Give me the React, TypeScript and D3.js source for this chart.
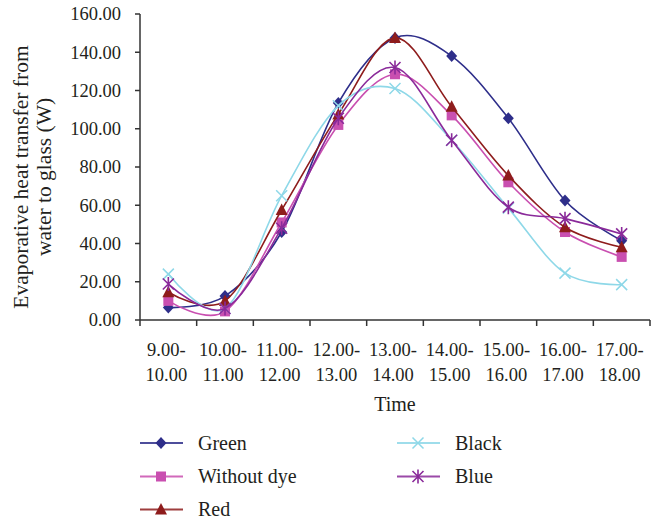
import React from "react";
import * as d3 from "d3";

const categories = ["9.00-10.00", "10.00-11.00", "11.00-12.00", "12.00-13.00", "13.00-14.00", "14.00-15.00", "15.00-16.00", "16.00-17.00", "17.00-18.00"];
const green = [6.5, 12.5, 46, 113.5, 147.5, 138, 105.5, 62.5, 41.5];
const withoutDye = [10, 4.5, 51, 102, 128.5, 107, 72, 46, 33];
const red = [14.5, 10, 57.5, 107.5, 147.5, 111.5, 75.5, 48.5, 38];
const black = [24, 6, 65, 112, 121, 94, 58.5, 24.5, 18.5];
const blue = [18.8, 6, 48, 105.5, 132, 94, 59, 53, 45];
const yTicks = [0, 20, 40, 60, 80, 100, 120, 140, 160];

type Marker = "diamond" | "square" | "triangle" | "x" | "star";
const series: { name: string; values: number[]; color: string; marker: Marker }[] = [
  { name: "Green", values: green, color: "#2E2E8A", marker: "diamond" },
  { name: "Without dye", values: withoutDye, color: "#C94FB0", marker: "square" },
  { name: "Red", values: red, color: "#8E1C1C", marker: "triangle" },
  { name: "Black", values: black, color: "#8ED8E8", marker: "x" },
  { name: "Blue", values: blue, color: "#8A2A9A", marker: "star" },
];

const FONT = "'Liberation Serif', 'Times New Roman', serif";

function MarkerShape({ type, x, y, color }: { type: Marker; x: number; y: number; color: string }) {
  switch (type) {
    case "diamond":
      return <path d={`M${x},${y - 6}L${x + 5.5},${y}L${x},${y + 6}L${x - 5.5},${y}Z`} fill={color} />;
    case "square":
      return <rect x={x - 5} y={y - 5} width={10} height={10} fill={color} />;
    case "triangle":
      return <path d={`M${x},${y - 6.5}L${x + 6},${y + 5}L${x - 6},${y + 5}Z`} fill={color} />;
    case "x":
      return <path d={`M${x - 5.5},${y - 5.5}L${x + 5.5},${y + 5.5}M${x - 5.5},${y + 5.5}L${x + 5.5},${y - 5.5}`} stroke={color} strokeWidth={1.5} fill="none" />;
    case "star":
      return (
        <path
          d={`M${x - 5.5},${y - 5.5}L${x + 5.5},${y + 5.5}M${x - 5.5},${y + 5.5}L${x + 5.5},${y - 5.5}M${x},${y - 7}L${x},${y + 7}`}
          stroke={color}
          strokeWidth={1.6}
          fill="none"
        />
      );
  }
}

export default function App() {
  const width = 652;
  const height = 521;
  const left = 140, right = 650, top = 14, bottom = 320;

  const x = d3.scaleBand<string>().domain(categories).range([left, right]).paddingInner(0).paddingOuter(0);
  const y = d3.scaleLinear().domain([0, 160]).range([bottom, top]);
  const cx = (c: string) => (x(c) as number) + x.bandwidth() / 2;

  const line = d3
    .line<number>()
    .x((_, i) => cx(categories[i]))
    .y((d) => y(d))
    .curve(d3.curveCatmullRom.alpha(0));

  const boundaries = d3.range(categories.length + 1).map((i) => left + i * x.bandwidth());

  const legendPos = [
    { lx: 140, ly: 443 },
    { lx: 140, ly: 476.5 },
    { lx: 140, ly: 509.5 },
    { lx: 397, ly: 443 },
    { lx: 397, ly: 476.5 },
  ];

  return (
    <svg width={width} height={height} style={{ position: "absolute", left: 0, top: 0, background: "#fff" }} fontFamily={FONT}>
      {/* axes */}
      <line x1={left} y1={top} x2={left} y2={bottom} stroke="#333" strokeWidth={1.5} />
      <line x1={left} y1={bottom} x2={right} y2={bottom} stroke="#333" strokeWidth={1.5} />
      {yTicks.map((t) => (
        <g key={t}>
          <line x1={left - 5} x2={left} y1={y(t)} y2={y(t)} stroke="#333" strokeWidth={1.5} />
          <text x={121} y={y(t)} dy="0.35em" textAnchor="end" fontSize={18.5} fill="#231f20">
            {t.toFixed(2)}
          </text>
        </g>
      ))}
      {boundaries.map((b, i) => (
        <line key={i} x1={b} x2={b} y1={bottom} y2={bottom + 6} stroke="#333" strokeWidth={1.5} />
      ))}
      {categories.map((c) => {
        const [a, b] = c.split("-");
        return (
          <text key={c} x={cx(c) - 2} textAnchor="middle" fontSize={18.5} fill="#231f20">
            <tspan x={cx(c) - 2} y={355.5}>{a + "-"}</tspan>
            <tspan x={cx(c) - 2} y={380.5}>{b}</tspan>
          </text>
        );
      })}
      <text x={(left + right) / 2} y={411} textAnchor="middle" fontSize={20} fill="#231f20">
        Time
      </text>
      <text transform={`translate(27.5,177) rotate(-90)`} textAnchor="middle" fontSize={21.5} fill="#231f20">
        Evaporative heat transfer from
      </text>
      <text transform={`translate(50.5,177) rotate(-90)`} textAnchor="middle" fontSize={21.5} fill="#231f20">
        water to glass (W)
      </text>

      {/* series */}
      {series.map((s) => (
        <g key={s.name}>
          <path d={line(s.values) || ""} fill="none" stroke={s.color} strokeWidth={1.6} />
          {s.values.map((v, i) => (
            <MarkerShape key={i} type={s.marker} x={cx(categories[i])} y={y(v)} color={s.color} />
          ))}
        </g>
      ))}

      {/* legend */}
      {series.map((s, i) => {
        const p = legendPos[i];
        return (
          <g key={s.name}>
            <line x1={p.lx} x2={p.lx + 43} y1={p.ly} y2={p.ly} stroke={s.color} strokeWidth={2} opacity={0.85} />
            <MarkerShape type={s.marker} x={p.lx + 21} y={p.ly} color={s.color} />
            <text x={p.lx + 58} y={p.ly} dy="0.33em" fontSize={20} fill="#231f20">
              {s.name}
            </text>
          </g>
        );
      })}
    </svg>
  );
}
